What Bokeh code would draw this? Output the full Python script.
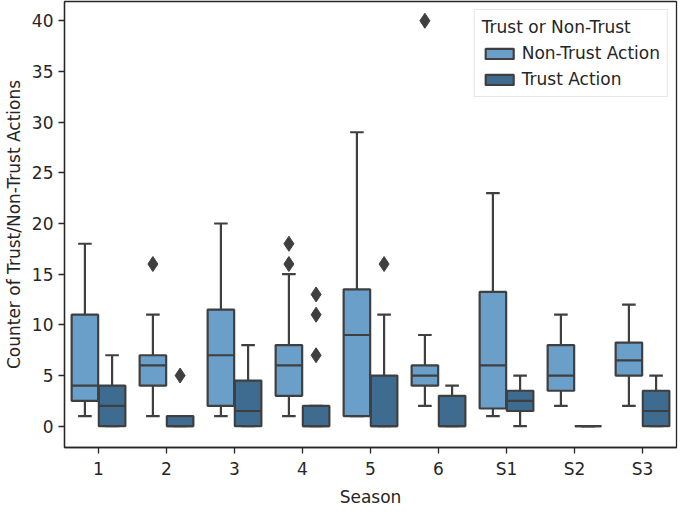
from bokeh.plotting import figure
from bokeh.models import ColumnDataSource, FactorRange, Range1d, FixedTicker, Legend
from bokeh.transform import dodge
from bokeh.embed import file_html
from bokeh.resources import INLINE

categories = ["1", "2", "3", "4", "5", "6", "S1", "S2", "S3"]

# Non-Trust Action box statistics
nt_lo = [1, 1, 1, 1, 1, 2, 1, 2, 2]
nt_q1 = [2.5, 4, 2, 3, 1, 4, 1.75, 3.5, 5]
nt_med = [4, 6, 7, 6, 9, 5, 6, 5, 6.5]
nt_q3 = [11, 7, 11.5, 8, 13.5, 6, 13.25, 8, 8.25]
nt_hi = [18, 11, 20, 15, 29, 9, 23, 11, 12]

# Trust Action box statistics
t_lo = [0, 0, 0, 0, 0, 0, 0, 0, 0]
t_q1 = [0, 0, 0, 0, 0, 0, 1.5, 0, 0]
t_med = [2, 0, 1.5, 0, 0, 0, 2.5, 0, 1.5]
t_q3 = [4, 1, 4.5, 2, 5, 3, 3.5, 0, 3.5]
t_hi = [7, 1, 8, 2, 11, 4, 5, 0, 5]

# Outliers
nt_out_cat = ["2", "4", "4", "6"]
nt_out_val = [16, 18, 16, 40]
t_out_cat = ["2", "4", "4", "4", "5"]
t_out_val = [5, 13, 11, 7, 16]

y_ticks = [0, 5, 10, 15, 20, 25, 30, 35, 40]

FONT = "DejaVu Sans"
FS = "17px"
TXT = "#262626"
EDGE = "#3f3f3f"
LIGHT = "#6a9fca"
DARK = "#3e6c90"

p = figure(frame_width=612, frame_height=446, output_backend="svg", toolbar_location=None,
           x_range=FactorRange(factors=categories, range_padding=0),
           y_range=Range1d(-2.1, 41.9),
           min_border_left=0, min_border_right=2, min_border_top=1, min_border_bottom=0)

p.xgrid.visible = False
p.ygrid.visible = False
p.outline_line_color = TXT
p.outline_line_width = 1.3

renderers = []
series = [
    ("Non-Trust Action", -0.2, LIGHT, nt_lo, nt_q1, nt_med, nt_q3, nt_hi, nt_out_cat, nt_out_val),
    ("Trust Action", 0.2, DARK, t_lo, t_q1, t_med, t_q3, t_hi, t_out_cat, t_out_val),
]
for name, off, col, lo, q1, med, q3, hi, oc, ov in series:
    src = ColumnDataSource(dict(cat=categories, lo=lo, q1=q1, med=med, q3=q3, hi=hi))
    xc = dodge("cat", off, range=p.x_range)
    # whiskers
    p.segment(x0=xc, x1=xc, y0="q3", y1="hi", source=src, line_color=EDGE, line_width=2.2)
    p.segment(x0=xc, x1=xc, y0="lo", y1="q1", source=src, line_color=EDGE, line_width=2.2)
    # caps
    p.segment(x0=dodge("cat", off - 0.1, range=p.x_range), x1=dodge("cat", off + 0.1, range=p.x_range),
              y0="hi", y1="hi", source=src, line_color=EDGE, line_width=2.2)
    p.segment(x0=dodge("cat", off - 0.1, range=p.x_range), x1=dodge("cat", off + 0.1, range=p.x_range),
              y0="lo", y1="lo", source=src, line_color=EDGE, line_width=2.2)
    # boxes
    r = p.vbar(x=xc, width=0.39, top="q3", bottom="q1", source=src,
               fill_color=col, line_color=EDGE, line_width=2.2)
    renderers.append((name, r))
    # medians
    p.segment(x0=dodge("cat", off - 0.195, range=p.x_range), x1=dodge("cat", off + 0.195, range=p.x_range),
              y0="med", y1="med", source=src, line_color=EDGE, line_width=2.2)
    # outliers
    osrc = ColumnDataSource(dict(cat=oc, val=ov))
    p.scatter(x=xc, y="val", source=osrc, marker="diamond", size=15,
              fill_color=EDGE, line_color=EDGE)

legend = Legend(items=[(n, [r]) for n, r in renderers], location="top_right",
                title="Trust or Non-Trust")
legend.title_text_font = FONT
legend.title_text_font_size = FS
legend.title_text_font_style = "normal"
legend.title_text_color = TXT
legend.label_text_font = FONT
legend.label_text_font_size = FS
legend.label_text_color = TXT
legend.glyph_width = 35
legend.glyph_height = 13
legend.spacing = 6
legend.margin = 8
legend.padding = 7
legend.border_line_color = "#cccccc"
legend.background_fill_alpha = 0.85
legend.title_standoff = 6
p.add_layout(legend)

for ax in (p.xaxis[0], p.yaxis[0]):
    ax.major_label_text_font = FONT
    ax.major_label_text_font_size = FS
    ax.major_label_text_color = TXT
    ax.axis_label_text_font = FONT
    ax.axis_label_text_font_size = FS
    ax.axis_label_text_font_style = "normal"
    ax.axis_label_text_color = TXT
    ax.axis_line_color = TXT
    ax.axis_line_width = 1.3
    ax.major_tick_line_color = TXT
    ax.major_tick_line_width = 1.3
    ax.major_tick_out = 6
    ax.major_tick_in = 0
    ax.minor_tick_line_color = None
    ax.major_label_standoff = 5
    ax.axis_label_standoff = 5

p.xaxis.axis_label = "Season"
p.yaxis.axis_label = "Counter of Trust/Non-Trust Actions"
p.yaxis.ticker = FixedTicker(ticks=y_ticks)

open("out.html", "w").write(file_html(p, INLINE))
